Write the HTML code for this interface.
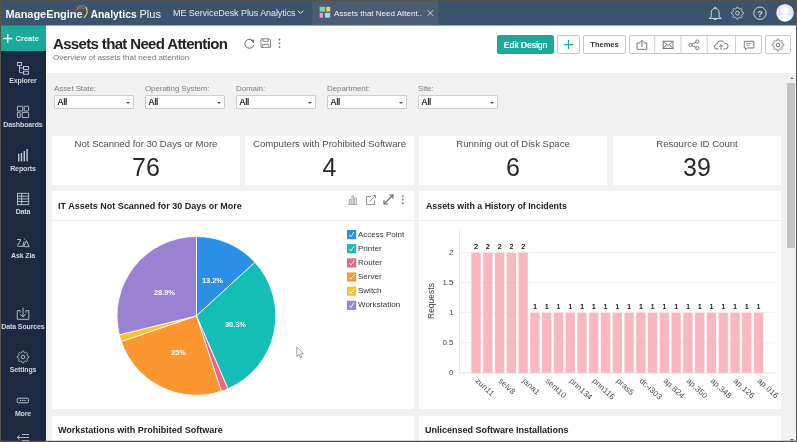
<!DOCTYPE html>
<html><head><meta charset="utf-8">
<style>
*{box-sizing:border-box;margin:0;padding:0}
html,body{width:797px;height:442px;overflow:hidden;background:#f1f1f1;font-family:"Liberation Sans",sans-serif}
#wrap{position:absolute;left:0;top:0;width:797px;height:442px;will-change:transform}
.a{position:absolute;white-space:nowrap;line-height:1}
#hdr{position:absolute;left:0;top:0;width:797px;height:25px;background:#3a546d}
#side{position:absolute;left:0;top:25px;width:46px;height:417px;background:#1d2841}
#create{position:absolute;left:0;top:25px;width:46px;height:26px;background:#1ba99a}
#top{position:absolute;left:46px;top:25px;width:751px;height:48px;background:#fff}
.nav{position:absolute;left:0;width:46px;text-align:center;color:#d3d7df;font-size:7px;font-weight:700;letter-spacing:-0.12px;line-height:1}
.lbl{position:absolute;font-size:8px;color:#808080;line-height:1;letter-spacing:-0.1px}
.sel{position:absolute;top:95px;width:80px;height:14px;background:#fff;border:1px solid #cdcdd6;border-radius:1px;font-size:8.5px;color:#2a2a2a;text-shadow:0.25px 0 0 #2a2a2a;padding-left:2.5px;line-height:12.5px}
.sel:after{content:"";position:absolute;right:3px;top:5.5px;border-left:2.6px solid transparent;border-right:2.6px solid transparent;border-top:2.8px solid #555}
.card{position:absolute;background:#fff}
.kt{position:absolute;left:0;right:0;text-align:center;font-size:9.6px;color:#505050;top:3px;line-height:1}
.kv{position:absolute;left:0;right:0;text-align:center;font-size:25px;color:#2a2a2a;top:18.5px;line-height:1}
.ct{position:absolute;left:6px;top:11px;font-size:9px;font-weight:700;color:#222;line-height:1}
.sep{position:absolute;left:0;right:0;top:29px;height:1px;background:#eeeeee}
.btn{position:absolute;top:35px;height:19px;border:1px solid #c6c6c6;border-radius:2px;background:#fff}
.lg{position:absolute;left:358px;font-size:8px;color:#353535;line-height:1;margin-top:0.4px}
.yl{position:absolute;width:30px;left:423.5px;text-align:right;font-size:8px;color:#444;line-height:1}
.vl{position:absolute;width:12px;text-align:center;font-size:7px;color:#222;text-shadow:0.2px 0 0 #222;line-height:1}
.xl{position:absolute;font-size:8px;color:#4a4a4a;letter-spacing:0.2px;line-height:1;transform-origin:0 0;transform:rotate(43deg)}
.pl{position:absolute;font-size:7.5px;color:#fff;font-weight:700;line-height:1;letter-spacing:-0.1px}
svg.ov{position:absolute;left:0;top:0}
</style></head><body><div id="wrap">
<div id="hdr"></div>
<div class="a" style="left:0;top:0;width:797px;height:1px;background:#55524f"></div>
<div id="side"></div>
<div id="create"></div>
<div id="top"></div>
<div class="a" style="left:0;top:25px;width:797px;height:1px;background:rgba(58,84,109,0.5)"></div>

<!-- header text -->
<div class="a" style="left:5.5px;top:9px;font-size:11px;color:#f7f8fa;font-weight:700;letter-spacing:-0.05px">ManageEngine</div>
<div class="a" style="left:90.5px;top:9.5px;font-size:10.4px;color:#fff;font-weight:700">Analytics</div>
<div class="a" style="left:139.5px;top:9px;font-size:11px;color:#f4f6f8">Plus</div>
<div class="a" style="left:173px;top:9px;font-size:9px;letter-spacing:-0.07px;color:#e6eaef">ME ServiceDesk Plus Analytics</div>
<div class="a" style="left:312px;top:1px;width:126px;height:24px;background:#4a5d73"></div>
<div class="a" style="left:334px;top:10px;font-size:8px;color:#f2f4f7">Assets that Need Attent..</div>

<!-- sidebar labels -->
<div class="a" style="left:15.6px;top:35px;font-size:7.5px;color:#eafaf7;font-weight:700">Create</div>
<div class="nav" style="top:77px">Explorer</div>
<div class="nav" style="top:121px">Dashboards</div>
<div class="nav" style="top:165px">Reports</div>
<div class="nav" style="top:208px">Data</div>
<div class="nav" style="top:252px">Ask Zia</div>
<div class="nav" style="top:323px">Data Sources</div>
<div class="nav" style="top:366px">Settings</div>
<div class="nav" style="top:410px">More</div>

<!-- title -->
<div class="a" style="left:53px;top:36px;font-size:15px;font-weight:700;color:#222;letter-spacing:-0.65px">Assets that Need Attention</div>
<div class="a" style="left:53px;top:53.7px;font-size:8px;color:#747474">Overview of assets that need attention</div>

<!-- buttons -->
<div class="btn" style="left:497px;width:57px;background:#1ba99a;border-color:#1ba99a;color:#f4fffd;font-size:8.5px;text-shadow:0.3px 0 0 #f4fffd;text-align:center;line-height:18.5px">Edit Design</div>
<div class="btn" style="left:557px;width:23px"></div>
<div class="btn" style="left:583px;width:43px;font-size:7.5px;font-weight:700;color:#333;text-align:center;line-height:17.5px">Themes</div>
<div class="btn" style="left:629px;width:133px"></div>
<div class="btn" style="left:765px;width:26px"></div>

<!-- filters -->
<div class="lbl" style="left:54px;top:85px">Asset State:</div>
<div class="lbl" style="left:145px;top:85px">Operating System:</div>
<div class="lbl" style="left:236px;top:85px">Domain:</div>
<div class="lbl" style="left:327px;top:85px">Department:</div>
<div class="lbl" style="left:418px;top:85px">Site:</div>
<div class="sel" style="left:54px">All</div>
<div class="sel" style="left:145px">All</div>
<div class="sel" style="left:236px">All</div>
<div class="sel" style="left:327px">All</div>
<div class="sel" style="left:418px">All</div>

<!-- KPI cards -->
<div class="card" style="left:52px;top:136px;width:188px;height:49px"><div class="kt">Not Scanned for 30 Days or More</div><div class="kv">76</div></div>
<div class="card" style="left:245px;top:136px;width:169px;height:49px"><div class="kt">Computers with Prohibited Software</div><div class="kv">4</div></div>
<div class="card" style="left:419px;top:136px;width:188px;height:49px"><div class="kt">Running out of Disk Space</div><div class="kv">6</div></div>
<div class="card" style="left:613px;top:136px;width:168px;height:49px"><div class="kt">Resource ID Count</div><div class="kv">39</div></div>

<!-- chart cards -->
<div class="card" style="left:52px;top:191px;width:362px;height:218px"><div class="ct">IT Assets Not Scanned for 30 Days or More</div><div class="sep"></div></div>
<div class="card" style="left:419px;top:191px;width:362px;height:218px"><div class="ct" style="left:7px;font-size:8.8px">Assets with a History of Incidents</div><div class="sep"></div></div>

<!-- bottom cards -->
<div class="card" style="left:52px;top:416px;width:362px;height:30px"><div class="ct" style="top:10.3px">Workstations with Prohibited Software</div></div>
<div class="card" style="left:419px;top:416px;width:362px;height:30px"><div class="ct" style="top:10.3px">Unlicensed Software Installations</div></div>

<!-- scrollbar -->
<div class="a" style="left:781px;top:73px;width:15px;height:369px;background:#f1f1f1"></div>
<div class="a" style="left:787px;top:83px;width:8px;height:165px;background:#c3c3c3"></div>
<div class="a" style="left:790px;top:438.5px;width:0;height:0;border-left:2.2px solid transparent;border-right:2.2px solid transparent;border-top:2.5px solid #6a6a6a"></div>
<div class="a" style="left:789.5px;top:76.5px;width:0;height:0;border-left:2.5px solid transparent;border-right:2.5px solid transparent;border-bottom:2.5px solid #7a7a7a"></div>

<svg class="ov" width="797" height="442" viewBox="0 0 797 442">
<path d="M196.4,315.9 L196.40,236.50 A79.4,79.4 0 0 1 254.94,262.26 Z" fill="#2b8fe6" stroke="#fff" stroke-width="0.8" stroke-linejoin="round"/>
<path d="M196.4,315.9 L254.94,262.26 A79.4,79.4 0 0 1 227.93,388.77 Z" fill="#14bdb5" stroke="#fff" stroke-width="0.8" stroke-linejoin="round"/>
<path d="M196.4,315.9 L227.93,388.77 A79.4,79.4 0 0 1 221.33,391.28 Z" fill="#f0657f" stroke="#fff" stroke-width="0.8" stroke-linejoin="round"/>
<path d="M196.4,315.9 L221.33,391.28 A79.4,79.4 0 0 1 121.24,341.49 Z" fill="#fb9630" stroke="#fff" stroke-width="0.8" stroke-linejoin="round"/>
<path d="M196.4,315.9 L121.24,341.49 A79.4,79.4 0 0 1 119.29,334.84 Z" fill="#fcc12c" stroke="#fff" stroke-width="0.8" stroke-linejoin="round"/>
<path d="M196.4,315.9 L119.29,334.84 A79.4,79.4 0 0 1 196.40,236.50 Z" fill="#9a82d2" stroke="#fff" stroke-width="0.8" stroke-linejoin="round"/>
<line x1="459.5" y1="252.6" x2="776" y2="252.6" stroke="#f0f0f0" stroke-width="1"/>
<line x1="459.5" y1="282.6" x2="776" y2="282.6" stroke="#f0f0f0" stroke-width="1"/>
<line x1="459.5" y1="312.7" x2="776" y2="312.7" stroke="#f0f0f0" stroke-width="1"/>
<line x1="459.5" y1="342.8" x2="776" y2="342.8" stroke="#f0f0f0" stroke-width="1"/>
<line x1="459.5" y1="372.9" x2="776" y2="372.9" stroke="#e3e3e3" stroke-width="1"/>
<line x1="459.5" y1="229.8" x2="459.5" y2="372.9" stroke="#e8e8e8" stroke-width="1"/>
<rect x="471.40" y="252.6" width="9.3" height="120.3" fill="#fbb7c0"/>
<rect x="483.17" y="252.6" width="9.3" height="120.3" fill="#fbb7c0"/>
<rect x="494.94" y="252.6" width="9.3" height="120.3" fill="#fbb7c0"/>
<rect x="506.71" y="252.6" width="9.3" height="120.3" fill="#fbb7c0"/>
<rect x="518.48" y="252.6" width="9.3" height="120.3" fill="#fbb7c0"/>
<rect x="530.25" y="312.7" width="9.3" height="60.2" fill="#fbb7c0"/>
<rect x="542.02" y="312.7" width="9.3" height="60.2" fill="#fbb7c0"/>
<rect x="553.79" y="312.7" width="9.3" height="60.2" fill="#fbb7c0"/>
<rect x="565.56" y="312.7" width="9.3" height="60.2" fill="#fbb7c0"/>
<rect x="577.33" y="312.7" width="9.3" height="60.2" fill="#fbb7c0"/>
<rect x="589.10" y="312.7" width="9.3" height="60.2" fill="#fbb7c0"/>
<rect x="600.87" y="312.7" width="9.3" height="60.2" fill="#fbb7c0"/>
<rect x="612.64" y="312.7" width="9.3" height="60.2" fill="#fbb7c0"/>
<rect x="624.41" y="312.7" width="9.3" height="60.2" fill="#fbb7c0"/>
<rect x="636.18" y="312.7" width="9.3" height="60.2" fill="#fbb7c0"/>
<rect x="647.95" y="312.7" width="9.3" height="60.2" fill="#fbb7c0"/>
<rect x="659.72" y="312.7" width="9.3" height="60.2" fill="#fbb7c0"/>
<rect x="671.49" y="312.7" width="9.3" height="60.2" fill="#fbb7c0"/>
<rect x="683.26" y="312.7" width="9.3" height="60.2" fill="#fbb7c0"/>
<rect x="695.03" y="312.7" width="9.3" height="60.2" fill="#fbb7c0"/>
<rect x="706.80" y="312.7" width="9.3" height="60.2" fill="#fbb7c0"/>
<rect x="718.57" y="312.7" width="9.3" height="60.2" fill="#fbb7c0"/>
<rect x="730.34" y="312.7" width="9.3" height="60.2" fill="#fbb7c0"/>
<rect x="742.11" y="312.7" width="9.3" height="60.2" fill="#fbb7c0"/>
<rect x="753.88" y="312.7" width="9.3" height="60.2" fill="#fbb7c0"/>
<!-- logo arcs -->
<g fill="none" stroke-width="1.3" stroke-linecap="round">
<path d="M75.8,10.5 A6,6 0 0 1 83.5,8.6" stroke="#d9534f"/>
<path d="M77.2,7.6 A7.5,7.5 0 0 1 82.5,5.6" stroke="#3aa757"/>
<path d="M82.8,5.4 A8,8 0 0 1 86.8,9.5" stroke="#2a8fd6"/>
<path d="M86.2,7.5 A8.5,8.5 0 0 1 84,17.6" stroke="#e9c43a"/>
</g>
<!-- header chevron -->
<path d="M297.8,10.8 L300.6,13.4 L303.4,10.8" fill="none" stroke="#e6eaef" stroke-width="1"/>
<!-- tab icon -->
<rect x="319.6" y="6.8" width="5.6" height="4.8" fill="#6fd6b8"/>
<rect x="326.3" y="6.8" width="3.9" height="4.8" fill="#f3cf4a"/>
<rect x="319.6" y="12.8" width="3.4" height="4.9" fill="#f19bc0"/>
<rect x="324.8" y="12.8" width="5.4" height="4.9" fill="#9ed8f5"/>
<!-- tab close -->
<path d="M427.6,10.2 L433.2,15.8 M433.2,10.2 L427.6,15.8" stroke="#e6eaef" stroke-width="0.85"/>
<!-- header right icons -->
<g fill="none" stroke="#d3d9e1" stroke-width="1">
<path d="M711.3,16.8 L711.3,12.6 C711.3,10 713,8.5 715.2,8.5 C717.4,8.5 719.1,10 719.1,12.6 L719.1,16.8 L721.2,18.4 L709.2,18.4 Z" stroke-linejoin="round"/>
<path d="M713.4,18.7 C713.8,19.9 716.6,19.9 717,18.7"/>
<circle cx="715.2" cy="7.7" r="0.6"/>
<circle cx="760" cy="13.2" r="6.2"/>
</g>
<text x="760" y="16.6" font-family="Liberation Sans" font-size="9" font-weight="700" fill="#d3d9e1" text-anchor="middle">?</text>
<circle cx="785" cy="12.7" r="8.8" fill="#e4e9f1"/>
<path d="M778.6,18.6 C779.2,15.6 781.5,14.8 785,14.8 C788.5,14.8 790.8,15.6 791.4,18.6 A8.6,8.6 0 0 1 778.6,18.6 Z" fill="#fbfcfd"/>
<circle cx="785" cy="10.6" r="3.9" fill="#fbfcfd"/>
<path d="M737.50,7.20 L737.66,7.20 L737.81,7.21 L737.97,7.22 L738.13,7.23 L738.27,7.32 L738.39,7.58 L738.49,7.86 L738.57,8.14 L738.65,8.43 L738.71,8.69 L738.81,8.79 L738.92,8.83 L739.04,8.86 L739.15,8.91 L739.26,8.95 L739.37,9.00 L739.48,9.05 L739.59,9.10 L739.69,9.16 L739.84,9.16 L740.07,9.01 L740.31,8.87 L740.58,8.72 L740.84,8.60 L741.11,8.50 L741.28,8.54 L741.40,8.64 L741.51,8.74 L741.63,8.85 L741.74,8.96 L741.85,9.07 L741.96,9.19 L742.06,9.30 L742.16,9.42 L742.20,9.59 L742.10,9.86 L741.98,10.12 L741.83,10.39 L741.69,10.63 L741.54,10.86 L741.54,11.01 L741.60,11.11 L741.65,11.22 L741.70,11.33 L741.75,11.44 L741.79,11.55 L741.84,11.66 L741.87,11.78 L741.91,11.89 L742.01,11.99 L742.27,12.05 L742.56,12.13 L742.84,12.21 L743.12,12.31 L743.38,12.43 L743.47,12.57 L743.48,12.73 L743.49,12.89 L743.50,13.04 L743.50,13.20 L743.50,13.36 L743.49,13.51 L743.48,13.67 L743.47,13.83 L743.38,13.97 L743.12,14.09 L742.84,14.19 L742.56,14.27 L742.27,14.35 L742.01,14.41 L741.91,14.51 L741.87,14.62 L741.84,14.74 L741.79,14.85 L741.75,14.96 L741.70,15.07 L741.65,15.18 L741.60,15.29 L741.54,15.39 L741.54,15.53 L741.69,15.77 L741.83,16.01 L741.98,16.28 L742.10,16.54 L742.20,16.81 L742.16,16.98 L742.06,17.10 L741.96,17.21 L741.85,17.33 L741.74,17.44 L741.63,17.55 L741.51,17.66 L741.40,17.76 L741.28,17.86 L741.11,17.90 L740.84,17.80 L740.58,17.68 L740.31,17.53 L740.07,17.39 L739.84,17.24 L739.69,17.24 L739.59,17.30 L739.48,17.35 L739.37,17.40 L739.26,17.45 L739.15,17.49 L739.04,17.54 L738.92,17.57 L738.81,17.61 L738.71,17.71 L738.65,17.97 L738.57,18.26 L738.49,18.54 L738.39,18.82 L738.27,19.08 L738.13,19.17 L737.97,19.18 L737.81,19.19 L737.66,19.20 L737.50,19.20 L737.34,19.20 L737.19,19.19 L737.03,19.18 L736.87,19.17 L736.73,19.08 L736.61,18.82 L736.51,18.54 L736.43,18.26 L736.35,17.97 L736.29,17.71 L736.19,17.61 L736.08,17.57 L735.96,17.54 L735.85,17.49 L735.74,17.45 L735.63,17.40 L735.52,17.35 L735.41,17.30 L735.31,17.24 L735.16,17.24 L734.93,17.39 L734.69,17.53 L734.42,17.68 L734.16,17.80 L733.89,17.90 L733.72,17.86 L733.60,17.76 L733.49,17.66 L733.37,17.55 L733.26,17.44 L733.15,17.33 L733.04,17.21 L732.94,17.10 L732.84,16.98 L732.80,16.81 L732.90,16.54 L733.02,16.28 L733.17,16.01 L733.31,15.77 L733.46,15.54 L733.46,15.39 L733.40,15.29 L733.35,15.18 L733.30,15.07 L733.25,14.96 L733.21,14.85 L733.16,14.74 L733.13,14.62 L733.09,14.51 L732.99,14.41 L732.73,14.35 L732.44,14.27 L732.16,14.19 L731.88,14.09 L731.62,13.97 L731.53,13.83 L731.52,13.67 L731.51,13.51 L731.50,13.36 L731.50,13.20 L731.50,13.04 L731.51,12.89 L731.52,12.73 L731.53,12.57 L731.62,12.43 L731.88,12.31 L732.16,12.21 L732.44,12.13 L732.73,12.05 L732.99,11.99 L733.09,11.89 L733.13,11.78 L733.16,11.66 L733.21,11.55 L733.25,11.44 L733.30,11.33 L733.35,11.22 L733.40,11.11 L733.46,11.01 L733.46,10.86 L733.31,10.63 L733.17,10.39 L733.02,10.12 L732.90,9.86 L732.80,9.59 L732.84,9.42 L732.94,9.30 L733.04,9.19 L733.15,9.07 L733.26,8.96 L733.37,8.85 L733.49,8.74 L733.60,8.64 L733.72,8.54 L733.89,8.50 L734.16,8.60 L734.42,8.72 L734.69,8.87 L734.93,9.01 L735.16,9.16 L735.31,9.16 L735.41,9.10 L735.52,9.05 L735.63,9.00 L735.74,8.95 L735.85,8.91 L735.96,8.86 L736.08,8.83 L736.19,8.79 L736.29,8.69 L736.35,8.43 L736.43,8.14 L736.51,7.86 L736.61,7.58 L736.73,7.32 L736.87,7.23 L737.03,7.22 L737.19,7.21 L737.34,7.20 Z" fill="none" stroke="#d3d9e1" stroke-width="0.9" stroke-linejoin="round"/><circle cx="737.5" cy="13.2" r="1.9" fill="none" stroke="#d3d9e1" stroke-width="0.9"/>
<!-- create plus -->
<path d="M3.2,38.5 L12.4,38.5 M7.8,33.9 L7.8,43.1" stroke="#eafaf7" stroke-width="1.3"/>
<!-- sidebar icons -->
<g fill="none" stroke="#c5cad4" stroke-width="0.9">
<!-- explorer -->
<rect x="17.5" y="62.5" width="4" height="3"/>
<rect x="23.5" y="66.5" width="5" height="3"/>
<rect x="23.5" y="71.2" width="5" height="3"/>
<path d="M19.5,65.5 L19.5,72.7 L23.5,72.7 M19.5,68 L23.5,68"/>
<!-- dashboards -->
<rect x="17.4" y="106.2" width="5.4" height="4.8" rx="0.5"/>
<rect x="24.2" y="106.2" width="4.4" height="4.8" rx="0.5"/>
<rect x="17.4" y="112.4" width="2.8" height="5.2" rx="0.5"/>
<rect x="22.2" y="112.4" width="6.4" height="5.2" rx="0.5"/>
<!-- data table -->
<rect x="17.5" y="193.3" width="11.2" height="11.4"/>
<path d="M17.5,196.2 L28.7,196.2 M17.5,198.9 L28.7,198.9 M17.5,201.6 L28.7,201.6 M21.7,193.3 L21.7,204.7"/>
<!-- data sources -->
<path d="M17.2,310.6 L17.2,319.3 L28.9,319.3 L28.9,310.6 L26,310.6 L26,312.6 M17.2,310.6 L20.1,310.6 L20.1,312.6"/>
<path d="M23,307.5 L23,317 M20.3,314.2 L23,317 L25.7,314.2"/>
<!-- more -->
<rect x="17.2" y="398.2" width="11.2" height="4.6" rx="1"/>
<!-- collapse -->
<path d="M17.5,437.5 L29,437.5 M19.5,435.3 L17.3,437.5 L19.5,439.7 M22,434.5 L29,434.5 M22,440.5 L29,440.5"/>
</g>
<g fill="#c5cad4">
<rect x="18" y="153.8" width="1.4" height="7.6"/>
<rect x="20.8" y="152.9" width="1.4" height="8.5"/>
<rect x="23.6" y="151" width="1.4" height="10.4"/>
<rect x="26.4" y="149" width="1.4" height="12.4"/>
<circle cx="20.5" cy="400.5" r="0.7"/><circle cx="22.8" cy="400.5" r="0.7"/><circle cx="25.1" cy="400.5" r="0.7"/>
</g>
<!-- zia -->
<g fill="none" stroke="#c5cad4" stroke-width="0.9" stroke-linejoin="round" stroke-linecap="round">
<path d="M17.4,239.5 L20.8,239.5 L17.6,245.6 Q17.3,246.3 18.1,246.3 L22.6,246.3 L24,241.8"/>
<path d="M23.6,246.3 L26.5,240.6 L29,246.3 Z"/>
</g>
<circle cx="24.4" cy="239" r="0.6" fill="#c5cad4"/>
<path d="M23.00,351.20 L23.15,351.20 L23.30,351.21 L23.46,351.22 L23.61,351.23 L23.75,351.31 L23.86,351.56 L23.96,351.82 L24.05,352.08 L24.12,352.34 L24.18,352.59 L24.28,352.69 L24.39,352.72 L24.50,352.76 L24.61,352.80 L24.72,352.84 L24.83,352.89 L24.94,352.94 L25.04,352.99 L25.15,353.05 L25.28,353.05 L25.50,352.92 L25.74,352.78 L25.99,352.65 L26.24,352.54 L26.49,352.45 L26.65,352.49 L26.77,352.59 L26.88,352.69 L26.99,352.79 L27.10,352.90 L27.21,353.01 L27.31,353.12 L27.41,353.23 L27.51,353.35 L27.55,353.51 L27.46,353.76 L27.35,354.01 L27.22,354.26 L27.08,354.50 L26.95,354.72 L26.95,354.85 L27.01,354.96 L27.06,355.06 L27.11,355.17 L27.16,355.28 L27.20,355.39 L27.24,355.50 L27.28,355.61 L27.31,355.72 L27.41,355.82 L27.66,355.88 L27.92,355.95 L28.18,356.04 L28.44,356.14 L28.69,356.25 L28.77,356.39 L28.78,356.54 L28.79,356.70 L28.80,356.85 L28.80,357.00 L28.80,357.15 L28.79,357.30 L28.78,357.46 L28.77,357.61 L28.69,357.75 L28.44,357.86 L28.18,357.96 L27.92,358.05 L27.66,358.12 L27.41,358.18 L27.31,358.28 L27.28,358.39 L27.24,358.50 L27.20,358.61 L27.16,358.72 L27.11,358.83 L27.06,358.94 L27.01,359.04 L26.95,359.15 L26.95,359.28 L27.08,359.50 L27.22,359.74 L27.35,359.99 L27.46,360.24 L27.55,360.49 L27.51,360.65 L27.41,360.77 L27.31,360.88 L27.21,360.99 L27.10,361.10 L26.99,361.21 L26.88,361.31 L26.77,361.41 L26.65,361.51 L26.49,361.55 L26.24,361.46 L25.99,361.35 L25.74,361.22 L25.50,361.08 L25.28,360.95 L25.15,360.95 L25.04,361.01 L24.94,361.06 L24.83,361.11 L24.72,361.16 L24.61,361.20 L24.50,361.24 L24.39,361.28 L24.28,361.31 L24.18,361.41 L24.12,361.66 L24.05,361.92 L23.96,362.18 L23.86,362.44 L23.75,362.69 L23.61,362.77 L23.46,362.78 L23.30,362.79 L23.15,362.80 L23.00,362.80 L22.85,362.80 L22.70,362.79 L22.54,362.78 L22.39,362.77 L22.25,362.69 L22.14,362.44 L22.04,362.18 L21.95,361.92 L21.88,361.66 L21.82,361.41 L21.72,361.31 L21.61,361.28 L21.50,361.24 L21.39,361.20 L21.28,361.16 L21.17,361.11 L21.06,361.06 L20.96,361.01 L20.85,360.95 L20.72,360.95 L20.50,361.08 L20.26,361.22 L20.01,361.35 L19.76,361.46 L19.51,361.55 L19.35,361.51 L19.23,361.41 L19.12,361.31 L19.01,361.21 L18.90,361.10 L18.79,360.99 L18.69,360.88 L18.59,360.77 L18.49,360.65 L18.45,360.49 L18.54,360.24 L18.65,359.99 L18.78,359.74 L18.92,359.50 L19.05,359.28 L19.05,359.15 L18.99,359.04 L18.94,358.94 L18.89,358.83 L18.84,358.72 L18.80,358.61 L18.76,358.50 L18.72,358.39 L18.69,358.28 L18.59,358.18 L18.34,358.12 L18.08,358.05 L17.82,357.96 L17.56,357.86 L17.31,357.75 L17.23,357.61 L17.22,357.46 L17.21,357.30 L17.20,357.15 L17.20,357.00 L17.20,356.85 L17.21,356.70 L17.22,356.54 L17.23,356.39 L17.31,356.25 L17.56,356.14 L17.82,356.04 L18.08,355.95 L18.34,355.88 L18.59,355.82 L18.69,355.72 L18.72,355.61 L18.76,355.50 L18.80,355.39 L18.84,355.28 L18.89,355.17 L18.94,355.06 L18.99,354.96 L19.05,354.85 L19.05,354.72 L18.92,354.50 L18.78,354.26 L18.65,354.01 L18.54,353.76 L18.45,353.51 L18.49,353.35 L18.59,353.23 L18.69,353.12 L18.79,353.01 L18.90,352.90 L19.01,352.79 L19.12,352.69 L19.23,352.59 L19.35,352.49 L19.51,352.45 L19.76,352.54 L20.01,352.65 L20.26,352.78 L20.50,352.92 L20.72,353.05 L20.85,353.05 L20.96,352.99 L21.06,352.94 L21.17,352.89 L21.28,352.84 L21.39,352.80 L21.50,352.76 L21.61,352.72 L21.72,352.69 L21.82,352.59 L21.88,352.34 L21.95,352.08 L22.04,351.82 L22.14,351.56 L22.25,351.31 L22.39,351.23 L22.54,351.22 L22.70,351.21 L22.85,351.20 Z" fill="none" stroke="#c5cad4" stroke-width="0.9" stroke-linejoin="round"/><circle cx="23" cy="357" r="1.8" fill="none" stroke="#c5cad4" stroke-width="0.9"/>
<!-- title icons -->
<g fill="none" stroke="#6b6b6b" stroke-width="1">
<path d="M253.2,41.2 A4.5,4.5 0 1 0 253.8,45"/>
<g stroke="#8a8a8a"><path d="M261,38.8 L269,38.8 L270.6,40.4 L270.6,47.4 L261,47.4 Z" stroke-linejoin="round"/>
<path d="M263,38.8 L263,41.3 L268.3,41.3 L268.3,38.8 M262.7,47.4 L262.7,44.4 L268.9,44.4 L268.9,47.4"/></g>
</g>
<path d="M250.8,40.2 L254.3,39.5 L253.8,43 Z" fill="#6b6b6b"/>
<g fill="#6b6b6b"><circle cx="279.5" cy="39.5" r="0.9"/><circle cx="279.5" cy="43.3" r="0.9"/><circle cx="279.5" cy="47.1" r="0.9"/></g>
<!-- toolbar -->
<path d="M563.8,44.6 L573.2,44.6 M568.5,39.9 L568.5,49.3" stroke="#1ba99a" stroke-width="1.1"/>
<g stroke="#d0d0d0" stroke-width="1"><path d="M654.7,35.5 L654.7,53.5 M681,35.5 L681,53.5 M707.2,35.5 L707.2,53.5 M735.5,35.5 L735.5,53.5"/></g>
<g fill="none" stroke="#6a6a6a" stroke-width="0.9">
<path d="M640,43 L637,43 L637,49.3 L646.8,49.3 L646.8,43 L643.8,43"/>
<path d="M641.9,47 L641.9,40.5 M639.8,42.5 L641.9,40.4 L644,42.5"/>
<rect x="663.2" y="41.2" width="9.8" height="7.3"/>
<path d="M663.2,41.2 L668.1,45.5 L673,41.2 M663.2,48.5 L666.6,44.5 M673,48.5 L669.6,44.5"/>
<circle cx="690.6" cy="44.9" r="1.6"/><circle cx="697.4" cy="41.5" r="1.6"/><circle cx="697.4" cy="48.2" r="1.6"/>
<path d="M692,44.1 L696,42.3 M692,45.7 L696,47.4"/>
<path d="M718.5,49 L716.8,49 A2.4,2.4 0 0 1 716.8,44.2 A4.2,4.2 0 0 1 724.8,43.4 A2.8,2.8 0 0 1 725.6,49 L723.5,49"/>
<path d="M721,49.7 L721,44.8 M719.2,46.6 L721,44.8 L722.8,46.6"/>
<path d="M744.3,41.3 L753.8,41.3 L753.8,48 L747.5,48 L745.5,49.8 L745.5,48 L744.3,48 Z"/>
<path d="M746.2,43.5 L751.5,43.5 M746.2,45.3 L750,45.3" stroke="#9a9a9a"/>
</g>
<path d="M778.00,39.20 L778.15,39.20 L778.30,39.21 L778.46,39.22 L778.61,39.23 L778.75,39.32 L778.86,39.60 L778.95,39.90 L779.02,40.20 L779.08,40.50 L779.13,40.77 L779.22,40.88 L779.33,40.91 L779.44,40.95 L779.54,40.99 L779.65,41.03 L779.75,41.07 L779.85,41.12 L779.95,41.17 L780.05,41.22 L780.19,41.21 L780.42,41.05 L780.67,40.88 L780.94,40.72 L781.21,40.58 L781.49,40.46 L781.65,40.49 L781.77,40.59 L781.88,40.69 L781.99,40.79 L782.10,40.90 L782.21,41.01 L782.31,41.12 L782.41,41.23 L782.51,41.35 L782.54,41.51 L782.42,41.79 L782.28,42.06 L782.12,42.33 L781.95,42.58 L781.79,42.81 L781.78,42.95 L781.83,43.05 L781.88,43.15 L781.93,43.25 L781.97,43.35 L782.01,43.46 L782.05,43.56 L782.09,43.67 L782.12,43.78 L782.23,43.87 L782.50,43.92 L782.80,43.98 L783.10,44.05 L783.40,44.14 L783.68,44.25 L783.77,44.39 L783.78,44.54 L783.79,44.70 L783.80,44.85 L783.80,45.00 L783.80,45.15 L783.79,45.30 L783.78,45.46 L783.77,45.61 L783.68,45.75 L783.40,45.86 L783.10,45.95 L782.80,46.02 L782.50,46.08 L782.23,46.13 L782.12,46.22 L782.09,46.33 L782.05,46.44 L782.01,46.54 L781.97,46.65 L781.93,46.75 L781.88,46.85 L781.83,46.95 L781.78,47.05 L781.79,47.19 L781.95,47.42 L782.12,47.67 L782.28,47.94 L782.42,48.21 L782.54,48.49 L782.51,48.65 L782.41,48.77 L782.31,48.88 L782.21,48.99 L782.10,49.10 L781.99,49.21 L781.88,49.31 L781.77,49.41 L781.65,49.51 L781.49,49.54 L781.21,49.42 L780.94,49.28 L780.67,49.12 L780.42,48.95 L780.19,48.79 L780.05,48.78 L779.95,48.83 L779.85,48.88 L779.75,48.93 L779.65,48.97 L779.54,49.01 L779.44,49.05 L779.33,49.09 L779.22,49.12 L779.13,49.23 L779.08,49.50 L779.02,49.80 L778.95,50.10 L778.86,50.40 L778.75,50.68 L778.61,50.77 L778.46,50.78 L778.30,50.79 L778.15,50.80 L778.00,50.80 L777.85,50.80 L777.70,50.79 L777.54,50.78 L777.39,50.77 L777.25,50.68 L777.14,50.40 L777.05,50.10 L776.98,49.80 L776.92,49.50 L776.87,49.23 L776.78,49.12 L776.67,49.09 L776.56,49.05 L776.46,49.01 L776.35,48.97 L776.25,48.93 L776.15,48.88 L776.05,48.83 L775.95,48.78 L775.81,48.79 L775.58,48.95 L775.33,49.12 L775.06,49.28 L774.79,49.42 L774.51,49.54 L774.35,49.51 L774.23,49.41 L774.12,49.31 L774.01,49.21 L773.90,49.10 L773.79,48.99 L773.69,48.88 L773.59,48.77 L773.49,48.65 L773.46,48.49 L773.58,48.21 L773.72,47.94 L773.88,47.67 L774.05,47.42 L774.21,47.19 L774.22,47.05 L774.17,46.95 L774.12,46.85 L774.07,46.75 L774.03,46.65 L773.99,46.54 L773.95,46.44 L773.91,46.33 L773.88,46.22 L773.77,46.13 L773.50,46.08 L773.20,46.02 L772.90,45.95 L772.60,45.86 L772.32,45.75 L772.23,45.61 L772.22,45.46 L772.21,45.30 L772.20,45.15 L772.20,45.00 L772.20,44.85 L772.21,44.70 L772.22,44.54 L772.23,44.39 L772.32,44.25 L772.60,44.14 L772.90,44.05 L773.20,43.98 L773.50,43.92 L773.77,43.87 L773.88,43.78 L773.91,43.67 L773.95,43.56 L773.99,43.46 L774.03,43.35 L774.07,43.25 L774.12,43.15 L774.17,43.05 L774.22,42.95 L774.21,42.81 L774.05,42.58 L773.88,42.33 L773.72,42.06 L773.58,41.79 L773.46,41.51 L773.49,41.35 L773.59,41.23 L773.69,41.12 L773.79,41.01 L773.90,40.90 L774.01,40.79 L774.12,40.69 L774.23,40.59 L774.35,40.49 L774.51,40.46 L774.79,40.58 L775.06,40.72 L775.33,40.88 L775.58,41.05 L775.81,41.21 L775.95,41.22 L776.05,41.17 L776.15,41.12 L776.25,41.07 L776.35,41.03 L776.46,40.99 L776.56,40.95 L776.67,40.91 L776.78,40.88 L776.87,40.77 L776.92,40.50 L776.98,40.20 L777.05,39.90 L777.14,39.60 L777.25,39.32 L777.39,39.23 L777.54,39.22 L777.70,39.21 L777.85,39.20 Z" fill="none" stroke="#6a6a6a" stroke-width="0.9" stroke-linejoin="round"/><circle cx="778" cy="45" r="1.8" fill="none" stroke="#6a6a6a" stroke-width="0.9"/>
<!-- chart header icons -->
<g fill="none" stroke="#a0a0a0" stroke-width="0.9">
<path d="M348.2,204.5 L356.8,204.5 M349.3,204.5 L349.3,199.5 L351,199.5 L351,204.5 M352,204.5 L352,196 L353.7,196 L353.7,204.5 M354.7,204.5 L354.7,198 L356.4,198 L356.4,204.5"/>
</g>
<g fill="none" stroke="#8a8a8a" stroke-width="0.9">
<path d="M371,196.5 L366.5,196.5 L366.5,204.5 L374.5,204.5 L374.5,200"/>
<path d="M369.5,201.5 L375.5,195.5 M372.5,195.5 L375.5,195.5 L375.5,198.5"/>
</g>
<g fill="none" stroke="#606060" stroke-width="1.1">
<path d="M384.2,203.8 L393,195"/>
<path d="M384,200.2 L384,204 L387.8,204 M389.2,195 L393,195 L393,198.8"/>
</g>
<g fill="#666"><circle cx="402.8" cy="196" r="0.85"/><circle cx="402.8" cy="199.6" r="0.85"/><circle cx="402.8" cy="203.2" r="0.85"/></g>
<!-- legend boxes -->
<g>
<rect x="347" y="230" width="9.2" height="9.2" fill="#2b8fe6"/>
<rect x="347" y="244.1" width="9.2" height="9.2" fill="#14bdb5"/>
<rect x="347" y="258.3" width="9.2" height="9.2" fill="#f0657f"/>
<rect x="347" y="272.4" width="9.2" height="9.2" fill="#fb9630"/>
<rect x="347" y="286.6" width="9.2" height="9.2" fill="#fcc12c"/>
<rect x="347" y="300.7" width="9.2" height="9.2" fill="#9a82d2"/>
</g>
<g fill="none" stroke="#fff" stroke-width="0.9">
<path d="M349.3,234.8 L351,236.8 L354,232"/>
<path d="M349.3,248.9 L351,250.9 L354,246.1"/>
<path d="M349.3,263.1 L351,265.1 L354,260.3"/>
<path d="M349.3,277.2 L351,279.2 L354,274.4"/>
<path d="M349.3,291.4 L351,293.4 L354,288.6"/>
<path d="M349.3,305.5 L351,307.5 L354,302.7"/>
</g>
<!-- cursor -->
<path d="M296.8,347 L296.8,356.5 L299,354.5 L300.6,357.8 L302,357.1 L300.5,353.9 L303.5,353.7 Z" fill="#fff" stroke="#777" stroke-width="0.7" stroke-linejoin="round"/>

</svg>

<!-- legend -->
<div class="lg" style="top:231px">Access Point</div>
<div class="lg" style="top:245px">Printer</div>
<div class="lg" style="top:259px">Router</div>
<div class="lg" style="top:273px">Server</div>
<div class="lg" style="top:287px">Switch</div>
<div class="lg" style="top:301px">Workstation</div>

<!-- pie labels -->
<div class="pl" style="left:202px;top:277px">13.2%</div>
<div class="pl" style="left:225px;top:321px">30.3%</div>
<div class="pl" style="left:171px;top:349px">25%</div>
<div class="pl" style="left:154px;top:289px">28.9%</div>

<div class="vl" style="left:470.05px;top:243.0px">2</div>
<div class="vl" style="left:481.82px;top:243.0px">2</div>
<div class="vl" style="left:493.59px;top:243.0px">2</div>
<div class="vl" style="left:505.36px;top:243.0px">2</div>
<div class="vl" style="left:517.13px;top:243.0px">2</div>
<div class="vl" style="left:528.90px;top:303.1px">1</div>
<div class="vl" style="left:540.67px;top:303.1px">1</div>
<div class="vl" style="left:552.44px;top:303.1px">1</div>
<div class="vl" style="left:564.21px;top:303.1px">1</div>
<div class="vl" style="left:575.98px;top:303.1px">1</div>
<div class="vl" style="left:587.75px;top:303.1px">1</div>
<div class="vl" style="left:599.52px;top:303.1px">1</div>
<div class="vl" style="left:611.29px;top:303.1px">1</div>
<div class="vl" style="left:623.06px;top:303.1px">1</div>
<div class="vl" style="left:634.83px;top:303.1px">1</div>
<div class="vl" style="left:646.60px;top:303.1px">1</div>
<div class="vl" style="left:658.37px;top:303.1px">1</div>
<div class="vl" style="left:670.14px;top:303.1px">1</div>
<div class="vl" style="left:681.91px;top:303.1px">1</div>
<div class="vl" style="left:693.68px;top:303.1px">1</div>
<div class="vl" style="left:705.45px;top:303.1px">1</div>
<div class="vl" style="left:717.22px;top:303.1px">1</div>
<div class="vl" style="left:728.99px;top:303.1px">1</div>
<div class="vl" style="left:740.76px;top:303.1px">1</div>
<div class="vl" style="left:752.53px;top:303.1px">1</div>
<div class="xl" style="left:478.55px;top:377px">zuri11</div>
<div class="xl" style="left:502.09px;top:377px">selv8</div>
<div class="xl" style="left:525.63px;top:377px">jana1</div>
<div class="xl" style="left:549.17px;top:377px">sent10</div>
<div class="xl" style="left:572.71px;top:377px">prin134</div>
<div class="xl" style="left:596.25px;top:377px">prin116</div>
<div class="xl" style="left:619.79px;top:377px">pras5</div>
<div class="xl" style="left:643.33px;top:377px">dc-i303</div>
<div class="xl" style="left:666.87px;top:377px">ap.824</div>
<div class="xl" style="left:690.41px;top:377px">ap.350</div>
<div class="xl" style="left:713.95px;top:377px">ap.348</div>
<div class="xl" style="left:737.49px;top:377px">ap.126</div>
<div class="xl" style="left:761.03px;top:377px">ap.016</div>
<div class="yl" style="top:248.6px">2</div>
<div class="yl" style="top:278.6px">1.5</div>
<div class="yl" style="top:308.7px">1</div>
<div class="yl" style="top:338.8px">0.5</div>
<div class="yl" style="top:368.9px">0</div>
<div class="a" style="left:427px;top:319px;font-size:8.5px;color:#444;transform-origin:0 0;transform:rotate(-90deg)">Requests</div>

<div class="a" style="left:796px;top:0;width:1px;height:442px;background:#55524f"></div>
<div class="a" style="left:0;top:0;width:1px;height:442px;background:#55524f"></div>
<div class="a" style="left:0;top:441px;width:797px;height:1px;background:#555"></div>
<div class="a" style="left:0;top:440px;width:797px;height:1px;background:rgba(85,85,85,0.25)"></div>
</div></body></html>
